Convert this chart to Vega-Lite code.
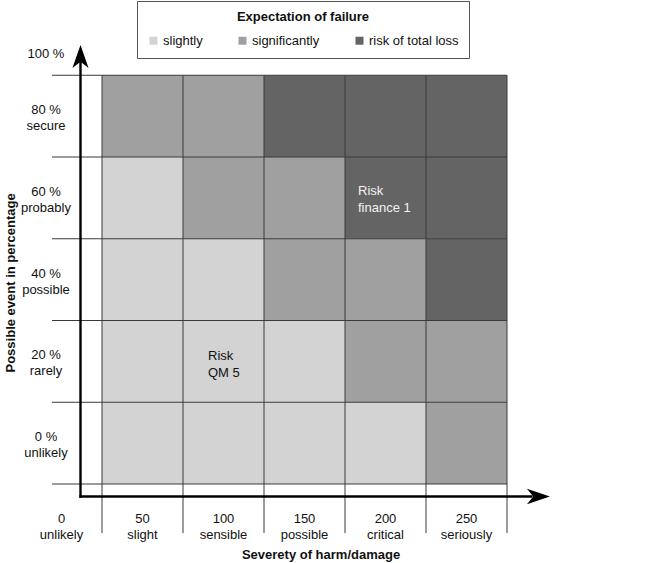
{
  "$schema": "https://vega.github.io/schema/vega-lite/v6.json",
  "width": 667,
  "height": 563,
  "padding": 0,
  "autosize": {"type": "none"},
  "background": "white",
  "config": {
    "view": {"stroke": null},
    "font": "Liberation Sans",
    "text": {"font": "Liberation Sans", "fontSize": 13, "color": "#111111"}
  },
  "datasets": {
    "one": [{}],
    "cells": [
      {"sev": 50, "pct": 80, "level": "significantly"},
      {"sev": 100, "pct": 80, "level": "significantly"},
      {"sev": 150, "pct": 80, "level": "risk of total loss"},
      {"sev": 200, "pct": 80, "level": "risk of total loss"},
      {"sev": 250, "pct": 80, "level": "risk of total loss"},
      {"sev": 50, "pct": 60, "level": "slightly"},
      {"sev": 100, "pct": 60, "level": "significantly"},
      {"sev": 150, "pct": 60, "level": "significantly"},
      {"sev": 200, "pct": 60, "level": "risk of total loss"},
      {"sev": 250, "pct": 60, "level": "risk of total loss"},
      {"sev": 50, "pct": 40, "level": "slightly"},
      {"sev": 100, "pct": 40, "level": "slightly"},
      {"sev": 150, "pct": 40, "level": "significantly"},
      {"sev": 200, "pct": 40, "level": "significantly"},
      {"sev": 250, "pct": 40, "level": "risk of total loss"},
      {"sev": 50, "pct": 20, "level": "slightly"},
      {"sev": 100, "pct": 20, "level": "slightly"},
      {"sev": 150, "pct": 20, "level": "slightly"},
      {"sev": 200, "pct": 20, "level": "significantly"},
      {"sev": 250, "pct": 20, "level": "significantly"},
      {"sev": 50, "pct": 0, "level": "slightly"},
      {"sev": 100, "pct": 0, "level": "slightly"},
      {"sev": 150, "pct": 0, "level": "slightly"},
      {"sev": 200, "pct": 0, "level": "slightly"},
      {"sev": 250, "pct": 0, "level": "significantly"}
    ],
    "rows": [
      {"pct": 0, "label": "0 %\nunlikely"},
      {"pct": 20, "label": "20 %\nrarely"},
      {"pct": 40, "label": "40 %\npossible"},
      {"pct": 60, "label": "60 %\nprobably"},
      {"pct": 80, "label": "80 %\nsecure"},
      {"pct": 100, "label": "100 %"}
    ],
    "cols": [
      {"sev": 0, "label": "0\nunlikely"},
      {"sev": 50, "label": "50\nslight"},
      {"sev": 100, "label": "100\nsensible"},
      {"sev": 150, "label": "150\npossible"},
      {"sev": 200, "label": "200\ncritical"},
      {"sev": 250, "label": "250\nseriously"}
    ]
  },
  "layer": [
    {
      "data": {"name": "cells"},
      "mark": {"type": "rect", "width": 81, "height": 81.75, "yOffset": -40.9, "strokeWidth": 0},
      "encoding": {
        "x": {"field": "sev", "type": "quantitative", "scale": {"domain": [-37.963, 373.765], "nice": false, "zero": false}, "axis": null},
        "y": {"field": "pct", "type": "quantitative", "scale": {"domain": [-19.327, 118.41], "nice": false, "zero": false}, "axis": null},
        "color": {
          "field": "level",
          "type": "nominal",
          "scale": {"domain": ["slightly", "significantly", "risk of total loss"], "range": ["#d2d3d2", "#a0a0a0", "#646464"]},
          "legend": {
            "orient": "none",
            "legendX": 137,
            "legendY": 1,
            "direction": "horizontal",
            "title": "Expectation of failure",
            "titleAnchor": "middle",
            "titleFont": "Liberation Sans",
            "titleFontWeight": "bold",
            "titleFontSize": 13,
            "titleColor": "#111111",
            "titlePadding": 10,
            "labelFont": "Liberation Sans",
            "labelFontSize": 13,
            "labelColor": "#111111",
            "labelOffset": 3,
            "symbolType": "square",
            "symbolSize": 64,
            "symbolStrokeWidth": 0,
            "symbolOpacity": 1,
            "strokeColor": "#555555",
            "fillColor": "white",
            "padding": 10,
            "columnPadding": 33
          }
        }
      }
    },
    {
      "data": {"name": "rows"},
      "mark": {"type": "rule", "color": "#3a3a3a", "strokeWidth": 1},
      "encoding": {
        "y": {"field": "pct", "type": "quantitative"},
        "x": {"datum": -5.86},
        "x2": {"datum": 275}
      }
    },
    {
      "data": {"name": "cols"},
      "mark": {"type": "rule", "color": "#3a3a3a", "strokeWidth": 1, "xOffset": 40.5},
      "encoding": {
        "x": {"field": "sev", "type": "quantitative"},
        "y": {"datum": 100},
        "y2": {"datum": -12}
      }
    },
    {
      "data": {"name": "one"},
      "mark": {"type": "rule", "color": "black", "strokeWidth": 2.4, "strokeCap": "square"},
      "encoding": {
        "x": {"datum": 11.73},
        "y": {"datum": -3.06},
        "y2": {"datum": 103}
      }
    },
    {
      "data": {"name": "one"},
      "mark": {"type": "rule", "color": "black", "strokeWidth": 2.4, "strokeCap": "square"},
      "encoding": {
        "y": {"datum": -3.06},
        "x": {"datum": 11.73},
        "x2": {"datum": 290}
      }
    },
    {
      "data": {"name": "one"},
      "mark": {"type": "point", "shape": "M0,-1L0.7,1L0,0.45L-0.7,1Z", "size": 529, "filled": true, "color": "black", "opacity": 1, "strokeWidth": 0},
      "encoding": {
        "x": {"datum": 11.73},
        "y": {"datum": 104.59}
      }
    },
    {
      "data": {"name": "one"},
      "mark": {"type": "point", "shape": "M1,0L-1,-0.68L-0.45,0L-1,0.68Z", "size": 529, "filled": true, "color": "black", "opacity": 1, "strokeWidth": 0},
      "encoding": {
        "x": {"datum": 294.4},
        "y": {"datum": -3.06}
      }
    },
    {
      "data": {"name": "rows"},
      "transform": [{"filter": "datum.pct < 100"}],
      "mark": {"type": "text", "align": "center", "baseline": "middle", "lineBreak": "\n", "lineHeight": 16, "dy": -47},
      "encoding": {
        "x": {"datum": -9.57},
        "y": {"field": "pct", "type": "quantitative"},
        "text": {"field": "label"}
      }
    },
    {
      "data": {"name": "rows"},
      "transform": [{"filter": "datum.pct == 100"}],
      "mark": {"type": "text", "align": "center", "baseline": "middle", "dy": -21},
      "encoding": {
        "x": {"datum": -9.57},
        "y": {"field": "pct", "type": "quantitative"},
        "text": {"field": "label"}
      }
    },
    {
      "data": {"name": "cols"},
      "mark": {"type": "text", "align": "center", "baseline": "middle", "lineBreak": "\n", "lineHeight": 16, "dy": 35},
      "encoding": {
        "x": {"field": "sev", "type": "quantitative"},
        "y": {"datum": 0},
        "text": {"field": "label"}
      }
    },
    {
      "data": {"name": "one"},
      "mark": {"type": "text", "align": "center", "baseline": "middle", "fontWeight": "bold", "fontSize": 13},
      "encoding": {
        "x": {"datum": 160.2},
        "y": {"datum": -17.4},
        "text": {"value": "Severety of harm/damage"}
      }
    },
    {
      "data": {"name": "one"},
      "mark": {"type": "text", "align": "center", "baseline": "middle", "fontWeight": "bold", "fontSize": 13, "angle": 270},
      "encoding": {
        "x": {"datum": -31.2},
        "y": {"datum": 49.2},
        "text": {"value": "Possible event in percentage"}
      }
    },
    {
      "data": {"values": [{"sev": 200, "pct": 60, "note": "Risk\nfinance 1"}]},
      "mark": {"type": "text", "align": "left", "baseline": "middle", "lineBreak": "\n", "lineHeight": 17, "dx": -27.5, "dy": -48, "color": "#f2f2f2"},
      "encoding": {
        "x": {"field": "sev", "type": "quantitative"},
        "y": {"field": "pct", "type": "quantitative"},
        "text": {"field": "note"}
      }
    },
    {
      "data": {"values": [{"sev": 100, "pct": 20, "note": "Risk\nQM 5"}]},
      "mark": {"type": "text", "align": "left", "baseline": "middle", "lineBreak": "\n", "lineHeight": 17, "dx": -15.5, "dy": -46, "color": "#111111"},
      "encoding": {
        "x": {"field": "sev", "type": "quantitative"},
        "y": {"field": "pct", "type": "quantitative"},
        "text": {"field": "note"}
      }
    }
  ]
}
